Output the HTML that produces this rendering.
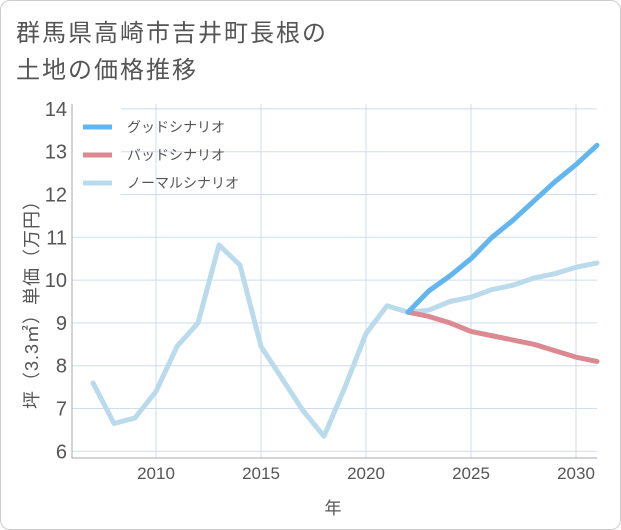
<!DOCTYPE html>
<html><head><meta charset="utf-8"><style>
body{margin:0;background:#fff;font-family:"Liberation Sans","Noto Sans CJK JP",sans-serif}
.card{position:absolute;left:0;top:0;width:619px;height:528px;border:1px solid #ccc;border-radius:10px;background:#fff}
</style></head><body>
<div class="card"></div>
<svg id="s" width="621" height="530" style="position:absolute;left:0;top:0">
<text x="16" y="41" font-size="24" letter-spacing="2" fill="#555">群馬県高崎市吉井町長根の</text>
<text x="16" y="78" font-size="24" letter-spacing="2" fill="#555">土地の価格推移</text>
</svg>
<script>
const years=[2007,2008,2009,2010,2011,2012,2013,2014,2015,2016,2017,2018,2019,2020,2021,2022,2023,2024,2025,2026,2027,2028,2029,2030,2031];
const normal=[7.6,6.65,6.78,7.4,8.45,9.0,10.82,10.35,8.45,7.7,6.95,6.35,7.5,8.75,9.4,9.25,9.3,9.5,9.6,9.78,9.88,10.05,10.15,10.3,10.4];
const fYears=[2022,2023,2024,2025,2026,2027,2028,2029,2030,2031];
const good=[9.25,9.75,10.1,10.5,11.0,11.4,11.85,12.3,12.7,13.15];
const bad=[9.25,9.15,9.0,8.8,8.7,8.6,8.5,8.35,8.2,8.1];
const yTicks=[6,7,8,9,10,11,12,13,14];
const xTicks=[2010,2015,2020,2025,2030];
const L=72,R=597,T=104,B=458;
const x=v=>156+(v-2010)*21;
const y=v=>151.7-(v-13)*42.8;
const s=document.getElementById('s');const NS='http://www.w3.org/2000/svg';
function el(t,a,txt){const e=document.createElementNS(NS,t);for(const k in a)e.setAttribute(k,a[k]);if(txt!=null)e.textContent=txt;s.appendChild(e);return e;}
yTicks.forEach(v=>{const g=el('line',{x1:L,x2:R,y1:y(v),y2:y(v),stroke:'#cfdceb','stroke-width':1});

const t=el('text',{x:L-5,y:y(v)+7,'font-size':20,fill:'#555','text-anchor':'end'},v);
});
xTicks.forEach(v=>{const g=el('line',{x1:x(v),x2:x(v),y1:T,y2:B,stroke:'#cfdceb','stroke-width':1});

const t=el('text',{x:x(v),y:B+21,'font-size':17,fill:'#555','text-anchor':'middle'},v);
});
const ax=el('path',{d:`M${L} ${T}V${B}H${R}`,stroke:'#aaa',fill:'none','stroke-width':1});

const lg=el('rect',{x:L+1,y:T+1,width:48,height:93,fill:'#fff'});

function line(xs,ys,c,n){const p=el('polyline',{points:xs.map((v,i)=>x(v)+','+y(ys[i])).join(' '),fill:'none',stroke:c,'stroke-width':5,'stroke-linejoin':'round','stroke-linecap':'round'});
}
line(years,normal,'#badbeb','normal-line');
line(fYears,bad,'#dc8a92','bad-line');
line(fYears,good,'#62b6ef','good-line');
[['グッドシナリオ','#62b6ef',127],['バッドシナリオ','#dc8a92',155],['ノーマルシナリオ','#badbeb',183]].forEach(([n,c,yy])=>{
const l=el('line',{x1:83,x2:112,y1:yy,y2:yy,stroke:c,'stroke-width':5});

const t=el('text',{x:127,y:yy+5,'font-size':14,fill:'#555'},n);
});
const yt=el('text',{x:0,y:0,'font-size':18,'letter-spacing':1,fill:'#555','text-anchor':'middle',transform:'translate(38,300) rotate(-90)'},'坪（3.3㎡）単価（万円）');

const xt=el('text',{x:333,y:514,'font-size':17,fill:'#555','text-anchor':'middle'},'年');

</script>
</body></html>
